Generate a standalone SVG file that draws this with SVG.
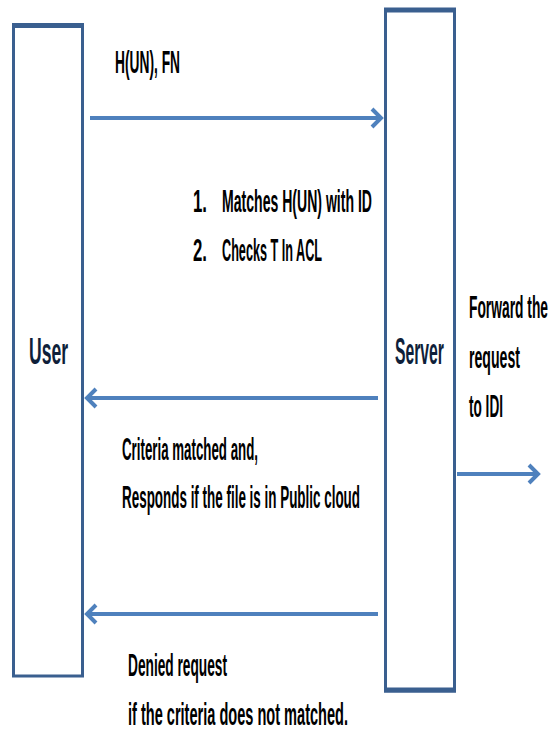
<svg xmlns="http://www.w3.org/2000/svg" width="551" height="732" viewBox="0 0 551 732">
<style>
.box{fill:#fff;stroke:#3A5F8F;stroke-width:3}
.edge{fill:none;stroke:#3A5F8F;stroke-width:5}
.conn{fill:none;stroke:#4F81BD;stroke-width:4}
.t{font-family:"Liberation Sans",Arial,sans-serif;font-size:32px;font-weight:bold;fill:#000}
.big{font-size:36px;fill:#0F1F3A}
</style>
<defs>
<marker id="ah" markerUnits="userSpaceOnUse" markerWidth="14" markerHeight="22" refX="11" refY="11" orient="auto">
<path d="M2,2 L11,11 L2,20" fill="none" stroke="#4F81BD" stroke-width="4"/>
</marker>
</defs>
<rect width="551" height="732" fill="#fff"/>
<g id="user">
<rect class="box" x="13.5" y="25" width="69" height="651"/>
<line class="edge" x1="12" y1="25.5" x2="84" y2="25.5"/>
<text class="t big" x="29" y="364" textLength="39" lengthAdjust="spacingAndGlyphs">User</text>
</g>
<g id="server">
<rect class="box" x="385.5" y="10" width="69" height="681"/>
<line class="edge" x1="384" y1="10" x2="456" y2="10"/>
<line class="edge" x1="384" y1="690" x2="456" y2="690"/>
<text class="t big" x="395" y="364" textLength="49" lengthAdjust="spacingAndGlyphs">Server</text>
</g>
<g id="connectors">
<line class="conn" x1="90" y1="118" x2="381" y2="118" marker-end="url(#ah)"/>
<line class="conn" x1="378" y1="398" x2="87" y2="398" marker-end="url(#ah)"/>
<line class="conn" x1="378" y1="614" x2="87" y2="614" marker-end="url(#ah)"/>
<line class="conn" x1="457" y1="474" x2="538" y2="474" marker-end="url(#ah)"/>
</g>
<g id="labels">
<text class="t" x="115" y="73" textLength="65" lengthAdjust="spacingAndGlyphs">H(UN), FN</text>
<text class="t" x="193" y="212" textLength="14" lengthAdjust="spacingAndGlyphs">1.</text>
<text class="t" x="222" y="212" textLength="150" lengthAdjust="spacingAndGlyphs">Matches H(UN) with ID</text>
<text class="t" x="193" y="261" textLength="14" lengthAdjust="spacingAndGlyphs">2.</text>
<text class="t" x="222" y="261" textLength="100" lengthAdjust="spacingAndGlyphs">Checks T In ACL</text>
<text class="t" x="469" y="318" textLength="79" lengthAdjust="spacingAndGlyphs">Forward the</text>
<text class="t" x="469" y="368" textLength="51" lengthAdjust="spacingAndGlyphs">request</text>
<text class="t" x="469" y="417" textLength="34" lengthAdjust="spacingAndGlyphs">to IDI</text>
<text class="t" x="122" y="460" textLength="136" lengthAdjust="spacingAndGlyphs">Criteria matched and,</text>
<text class="t" x="122" y="508" textLength="238" lengthAdjust="spacingAndGlyphs">Responds if the file is in Public cloud</text>
<text class="t" x="128" y="676" textLength="99" lengthAdjust="spacingAndGlyphs">Denied request</text>
<text class="t" x="128" y="725" textLength="220" lengthAdjust="spacingAndGlyphs">if the criteria does not matched.</text>
</g>
</svg>
